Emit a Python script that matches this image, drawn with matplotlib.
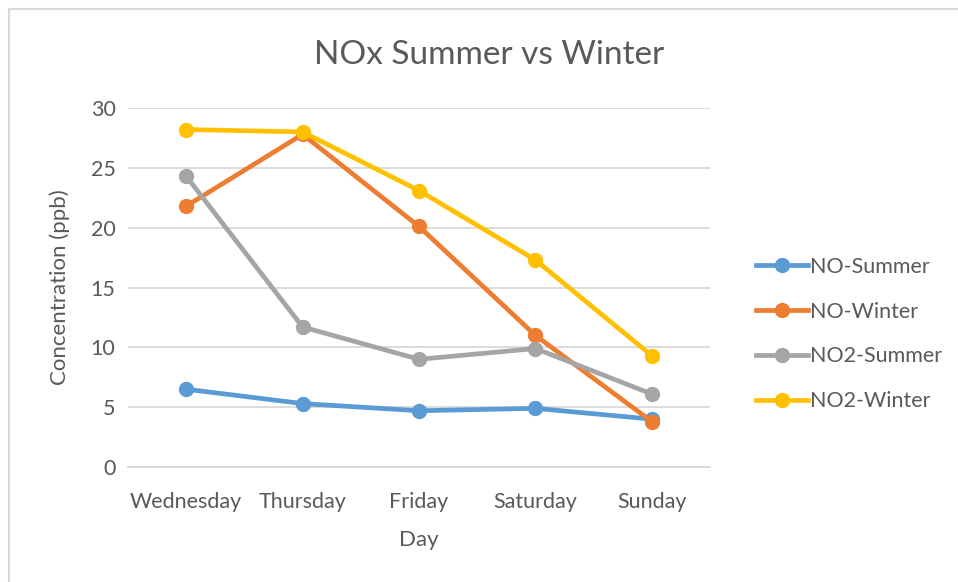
import matplotlib
matplotlib.use("Agg")
import matplotlib.pyplot as plt
from matplotlib.lines import Line2D

days = ["Wednesday", "Thursday", "Friday", "Saturday", "Sunday"]
no_summer = [6.5, 5.3, 4.7, 4.9, 4.0]
no_winter = [21.8, 27.8, 20.1, 11.0, 3.8]
no2_summer = [24.3, 11.7, 9.0, 9.9, 6.1]
no2_winter = [28.2, 28.0, 23.1, 17.3, 9.3]
series_names = ["NO-Summer", "NO-Winter", "NO2-Summer", "NO2-Winter"]
colors = ["#5B9BD5", "#ED7D31", "#A5A5A5", "#FFC000"]
yticks = [0, 5, 10, 15, 20, 25, 30]

plt.rcParams['font.family'] = ['Lato', 'DejaVu Sans']
txt = "#595959"

fig = plt.figure(figsize=(9.58, 5.82), dpi=100)
ax = fig.add_axes([128/958, 1-467/582, (710-128)/958, (467-108)/582])

x = list(range(len(days)))
for vals, name, c in zip([no_summer, no_winter, no2_summer, no2_winter], series_names, colors):
    ax.plot(x, vals, color=c, lw=3.4, marker='o', markersize=10, label=name,
            solid_capstyle='round', solid_joinstyle='round', zorder=3)

ax.set_xlim(-0.5, len(days)-0.5)
ax.set_ylim(0, 30)
ax.set_yticks(yticks)
ax.set_xticks(x)
ax.set_xticklabels(days)
ax.yaxis.grid(True, color="#D9D9D9", lw=1.3)
ax.set_axisbelow(True)
for s in ["top", "right", "left"]:
    ax.spines[s].set_visible(False)
ax.spines["bottom"].set_color("#D9D9D9")
ax.spines["bottom"].set_linewidth(1.3)
ax.tick_params(axis='both', length=0, labelsize=15.5, colors=txt)
ax.tick_params(axis='x', pad=18)
ax.tick_params(axis='y', pad=9)
ax.set_xlabel("Day", fontsize=16, color=txt, labelpad=13)
ax.set_ylabel("Concentration (ppb)", fontsize=16, color=txt, labelpad=15)

fig.text(489/958, 1-55/582, "NOx Summer vs Winter", fontsize=24, color=txt,
         ha='center', va='center')

handles = [Line2D([0], [0], color=c, lw=3.4, marker='o', markersize=10) for c in colors]
fig.legend(handles, series_names, loc='center left', bbox_to_anchor=(737/958, 1-334/582),
           frameon=False, fontsize=15.5, labelcolor=txt, handlelength=2.4,
           handletextpad=0.1, labelspacing=1.15)

# chart border (top and left visible)
fig.add_artist(Line2D([8.5/958, 8.5/958], [0, 1-9/582], transform=fig.transFigure, color="#D9D9D9", lw=1.5))
fig.add_artist(Line2D([8.5/958, 1], [1-9/582, 1-9/582], transform=fig.transFigure, color="#D9D9D9", lw=1.5))

fig.savefig("out.png", dpi=100)
